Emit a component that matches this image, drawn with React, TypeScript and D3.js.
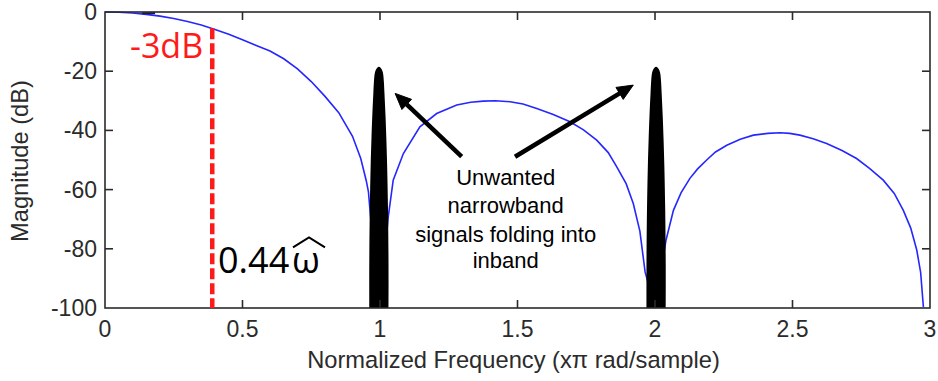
import * as d3 from "d3";

// Blue magnitude response (x in ×π rad/sample, y in dB)
const respFreq = [
  0, 0.05, 0.1, 0.15, 0.2, 0.25, 0.3, 0.35, 0.4, 0.45, 0.5, 0.55, 0.6, 0.65, 0.7, 0.75, 0.8,
  0.85, 0.9, 0.93, 0.95, 0.958, 0.966, 1.0,
  1.03, 1.048, 1.085, 1.145, 1.206, 1.279, 1.33, 1.376, 1.42, 1.473, 1.52, 1.57, 1.63, 1.691,
  1.74, 1.788, 1.83, 1.861, 1.895, 1.921, 1.945, 1.964, 2.0,
  2.04, 2.067, 2.095, 2.127, 2.155, 2.188, 2.22, 2.261, 2.31, 2.358, 2.41, 2.455, 2.49, 2.527,
  2.575, 2.624, 2.68, 2.733, 2.78, 2.83, 2.87, 2.903, 2.93, 2.952, 2.966, 2.976,
];
const respDb = [
  0, -0.1, -0.35, -0.8, -1.4, -2.2, -3.2, -4.4, -5.9, -7.5, -9.4, -11.3, -13.2, -15.8, -19.2,
  -23.5, -28.5, -34, -42, -49.5, -57, -60.8, -69.5, -100,
  -69.2, -56.8, -47.8, -38.8, -34.3, -31.4, -30.5, -30.1, -30.0, -30.3, -31.1, -32.6, -34.6,
  -37.1, -39.8, -43.3, -47.5, -52.3, -58, -64.7, -74, -87.8, -100,
  -77.1, -67, -61, -56.2, -53, -50, -47.3, -45, -43, -41.6, -41, -40.8, -41, -41.6, -42.8,
  -44.4, -46.8, -49.5, -52.8, -56.8, -61.3, -67, -73, -80.5, -88, -99.7,
];

// Narrowband interferers (black spikes): centre frequencies and half-width profile
const spikeCenters = [0.996, 2.004];
const spikeHalfWidth = [0, 0.006, 0.011, 0.014, 0.016, 0.018, 0.02, 0.024, 0.027, 0.03, 0.033, 0.035, 0.035];
const spikeDb = [-18.5, -18.8, -19.5, -20.3, -21.3, -23.5, -27, -35, -42.6, -52, -66, -85, -100];

const xTicks = [0, 0.5, 1, 1.5, 2, 2.5, 3];
const yTicks = [0, -20, -40, -60, -80, -100];

const cutoffFreq = 0.39;
const cutoffDb = -5.5;

const noteLines = ["Unwanted", "narrowband", "signals folding into", "inband"];
const noteBaselineDb = [-58.5, -68, -77.7, -86.6];

const W = 938;
const H = 381;
const left = 105;
const right = 930;
const top = 12;
const bottom = 308;

const x = d3.scaleLinear().domain([0, 3]).range([left, right]);
const y = d3.scaleLinear().domain([-100, 0]).range([bottom, top]);

const axisFont = "Arial, 'Liberation Sans', Helvetica, sans-serif";
const axisColor = "#2b2b2b";

function arrow(x1: number, y1: number, x2: number, y2: number) {
  const ang = Math.atan2(y2 - y1, x2 - x1);
  const len = 16;
  const half = 7;
  const bx = x2 - len * Math.cos(ang);
  const by = y2 - len * Math.sin(ang);
  const px = -Math.sin(ang) * half;
  const py = Math.cos(ang) * half;
  return {
    shaft: `M${x1},${y1}L${bx},${by}`,
    head: `M${x2},${y2}L${bx + px},${by + py}L${bx - px},${by - py}Z`,
  };
}

export default function App() {
  const line = d3
    .line<number>()
    .x((_, i) => x(respFreq[i]))
    .y((d) => y(d));

  const spikePath = (c: number) => {
    const pts: [number, number][] = [];
    for (let i = spikeHalfWidth.length - 1; i >= 0; i--) pts.push([x(c - spikeHalfWidth[i]), y(spikeDb[i])]);
    for (let i = 1; i < spikeHalfWidth.length; i++) pts.push([x(c + spikeHalfWidth[i]), y(spikeDb[i])]);
    return d3.line().curve(d3.curveCatmullRom)(pts) + "Z";
  };

  const a1 = arrow(x(1.297), y(-48.9), x(1.055), y(-27.5));
  const a2 = arrow(x(1.491), y(-48.9), x(1.921), y(-24.7));

  const omegaX = x(0.68);
  const omegaBase = y(-88.3);

  return (
    <svg
      width={W}
      height={H}
      style={{ position: "absolute", left: 0, top: 0, background: "#fff" }}
    >
      {/* response */}
      <path d={line(respDb) ?? ""} fill="none" stroke="#2626ff" strokeWidth={1.6} />

      {/* tiny dark mark at top near DC */}
      <line x1={x(0.135)} x2={x(0.182)} y1={y(-0.4)} y2={y(-0.4)} stroke="#1a1a40" strokeWidth={2} />

      {/* spikes */}
      {spikeCenters.map((c) => (
        <path key={c} d={spikePath(c)} fill="#000" />
      ))}

      {/* frame */}
      <rect x={left} y={top} width={right - left} height={bottom - top} fill="none" stroke={axisColor} strokeWidth={1.6} />
      {xTicks.slice(1, -1).map((t) => (
        <g key={"xt" + t} stroke={axisColor} strokeWidth={1.6}>
          <line x1={x(t)} x2={x(t)} y1={bottom} y2={bottom - 8} />
          <line x1={x(t)} x2={x(t)} y1={top} y2={top + 8} />
        </g>
      ))}
      {yTicks.slice(1, -1).map((t) => (
        <g key={"yt" + t} stroke={axisColor} strokeWidth={1.6}>
          <line x1={left} x2={left + 8} y1={y(t)} y2={y(t)} />
          <line x1={right} x2={right - 8} y1={y(t)} y2={y(t)} />
        </g>
      ))}

      {/* tick labels */}
      <g fontFamily={axisFont} fontSize={23} fill={axisColor}>
        {xTicks.map((t) => (
          <text key={"xl" + t} x={x(t)} y={337} textAnchor="middle">
            {t}
          </text>
        ))}
        {yTicks.map((t) => (
          <text key={"yl" + t} x={97} y={y(t)} textAnchor="end" dominantBaseline="central">
            {t}
          </text>
        ))}
      </g>

      {/* axis titles */}
      <text x={(left + right) / 2 - 4} y={368} textAnchor="middle" fontFamily={axisFont} fontSize={23.7} fill={axisColor}>
        Normalized Frequency (xπ rad/sample)
      </text>
      <text
        transform={`translate(28,${(top + bottom) / 2 + 1}) rotate(-90)`}
        textAnchor="middle"
        fontFamily={axisFont}
        fontSize={23.7}
        fill={axisColor}
      >
        Magnitude (dB)
      </text>

      {/* -3dB marker */}
      <line
        x1={x(cutoffFreq)}
        x2={x(cutoffFreq)}
        y1={y(cutoffDb)}
        y2={bottom}
        stroke="#ff1a1a"
        strokeWidth={4.5}
        strokeDasharray="11 4"
      />
      <text x={x(0.0909)} y={y(-15.6)} fontFamily="'Open Sans', sans-serif" fontSize={34} fill="#ff1a1a">
        -3dB
      </text>
      <text x={x(0.411)} y={omegaBase} fontFamily="'Open Sans', sans-serif" fontSize={36} fill="#000">
        0.44
      </text>
      <text x={omegaX} y={omegaBase} fontFamily="'Open Sans', sans-serif" fontSize={36} fill="#000">
        ω
      </text>
      <path
        d={`M${omegaX + 1},${omegaBase - 26}L${omegaX + 17},${omegaBase - 36}L${omegaX + 33},${omegaBase - 26}`}
        fill="none"
        stroke="#000"
        strokeWidth={2}
      />

      {/* annotation */}
      <g stroke="#000" strokeWidth={4.5} fill="#000">
        <path d={a1.shaft} />
        <path d={a1.head} strokeWidth={1} />
        <path d={a2.shaft} />
        <path d={a2.head} strokeWidth={1} />
      </g>
      <g fontFamily={axisFont} fontSize={22} fill="#000" textAnchor="middle">
        {noteLines.map((s, i) => (
          <text key={s} x={x(1.457)} y={y(noteBaselineDb[i])}>
            {s}
          </text>
        ))}
      </g>
    </svg>
  );
}
